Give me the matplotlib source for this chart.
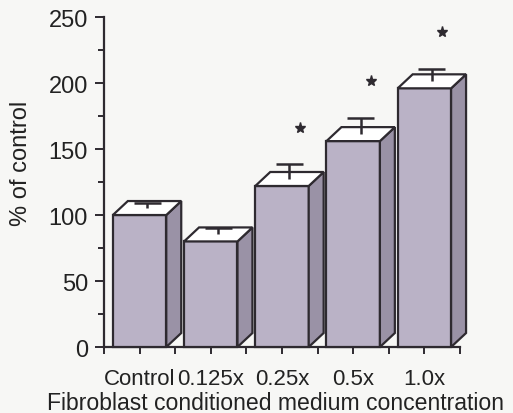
import matplotlib.pyplot as plt
from matplotlib.patches import Polygon
from matplotlib.ticker import MultipleLocator

plt.rcParams['font.family'] = ['Liberation Sans', 'DejaVu Sans']

categories = ['Control', '0.125x', '0.25x', '0.5x', '1.0x']
values = [100, 80, 122, 156, 196]
errors = [4, 5, 11, 12, 9]
significant = [False, False, True, True, True]

front_col = '#bab2c6'
side_col = '#9a92a6'
edge_col = '#2e2a30'
text_col = '#222222'

fig = plt.figure(figsize=(5.13, 4.14), dpi=100)
fig.patch.set_facecolor('#f7f7f5')
ax = fig.add_axes([0.2027, 0.1594, 0.694, 0.797])
ax.set_facecolor('#f7f7f5')

w = 0.75
dx, dy = 0.21, 10.6
cap = 0.19
x = list(range(len(categories)))

for xi, v, e, sig in zip(x, values, errors, significant):
    l, r = xi - w / 2, xi + w / 2
    ax.bar(xi, v, width=w, color=front_col, edgecolor=edge_col, linewidth=1.6, zorder=3, clip_on=False)
    side = Polygon([(r, 0), (r + dx, dy), (r + dx, v + dy), (r, v)], closed=True,
                   facecolor=side_col, edgecolor=edge_col, linewidth=1.6, zorder=3, clip_on=False)
    top = Polygon([(l, v), (l + dx, v + dy), (r + dx, v + dy), (r, v)], closed=True,
                  facecolor='white', edgecolor=edge_col, linewidth=1.6, zorder=3, clip_on=False)
    ax.add_patch(side)
    ax.add_patch(top)
    # error bar stands in the middle of the top face, upper half only
    cx, cy = xi + dx / 2, v + dy / 2
    ax.vlines(cx, cy, cy + e, color=edge_col, linewidth=1.8, zorder=4, clip_on=False)
    ax.hlines(cy + e, cx - cap, cx + cap, color=edge_col, linewidth=1.8, zorder=4, clip_on=False)
    if sig:
        ax.plot(xi + 0.25, cy + e + 28, marker='*', markersize=8, color=edge_col,
                linestyle='none', zorder=5, clip_on=False)

ax.set_xlim(-0.5, 4.5)
ax.set_ylim(0, 250)
ax.set_xticks(x)
ax.set_xticklabels(categories, fontsize=16)
ax.xaxis.set_minor_locator(MultipleLocator(1, offset=0.5))
ax.yaxis.set_major_locator(MultipleLocator(50))
ax.yaxis.set_minor_locator(MultipleLocator(25))
ax.tick_params(axis='y', which='major', length=6.5, width=1.4, color=edge_col,
               labelsize=17, labelcolor=text_col, pad=5)
ax.tick_params(axis='y', which='minor', length=4.3, width=1.4, color=edge_col)
ax.tick_params(axis='x', which='both', length=5, width=1.4, color=edge_col,
               labelcolor=text_col, pad=10)

for s in ['top', 'right']:
    ax.spines[s].set_visible(False)
for s in ['left', 'bottom']:
    ax.spines[s].set_linewidth(1.6)
    ax.spines[s].set_color(edge_col)

ax.set_ylabel('% of control', fontsize=17, color=text_col)
ax.yaxis.set_label_coords(-0.202, 0.56)
ax.set_xlabel('Fibroblast conditioned medium concentration', fontsize=16.6, color=text_col)
ax.xaxis.set_label_coords(0.482, -0.133)

plt.savefig('out.png', dpi=100, facecolor=fig.get_facecolor())
